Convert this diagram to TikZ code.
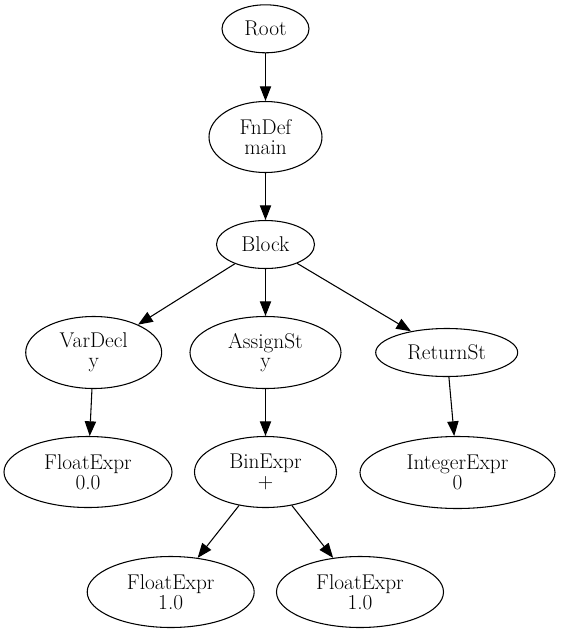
\documentclass[tikz,border=0pt]{standalone}
\usetikzlibrary{shapes.geometric,arrows.meta}
\begin{document}
\begin{tikzpicture}[x=0.75pt,y=-0.75pt,
  tnode/.style={ellipse,draw,line width=0.8pt,inner sep=0pt,align=center,
    font=\fontsize{16pt}{14.8pt}\selectfont},
  edge/.style={line width=0.8pt,-{Triangle[length=11pt,width=8.5pt]}}]
\useasboundingbox (0,0) rectangle (562,633);
\node[tnode,minimum width=87*0.75pt,minimum height=48*0.75pt] (root) at (265.5,28.8) {Root};
\node[tnode,minimum width=113*0.75pt,minimum height=71*0.75pt] (fndef) at (265.5,137) {FnDef\\main};
\node[tnode,minimum width=98*0.75pt,minimum height=48*0.75pt] (block) at (265.5,244.5) {Block};
\node[tnode,minimum width=136*0.75pt,minimum height=72*0.75pt] (vardecl) at (93.7,352.5) {VarDecl\\y};
\node[tnode,minimum width=151*0.75pt,minimum height=72*0.75pt] (assign) at (265.5,352.5) {AssignSt\\y};
\node[tnode,minimum width=142*0.75pt,minimum height=48*0.75pt] (ret) at (446.7,352.5) {ReturnSt};
\node[tnode,minimum width=168*0.75pt,minimum height=71*0.75pt] (float0) at (88,472) {FloatExpr\\0.0};
\node[tnode,minimum width=142*0.75pt,minimum height=71*0.75pt] (binexpr) at (265.5,472) {BinExpr\\+};
\node[tnode,minimum width=195*0.75pt,minimum height=72*0.75pt] (intexpr) at (457.5,472.5) {IntegerExpr\\0};
\node[tnode,minimum width=167*0.75pt,minimum height=71*0.75pt] (fl1) at (170.7,592) {FloatExpr\\1.0};
\node[tnode,minimum width=167*0.75pt,minimum height=71*0.75pt] (fl2) at (360,592) {FloatExpr\\1.0};
\draw[edge] (root) -- (fndef);
\draw[edge] (fndef) -- (block);
\draw[edge] (block) -- (vardecl);
\draw[edge] (block) -- (assign);
\draw[edge] (block) -- (ret);
\draw[edge] (vardecl) -- (float0);
\draw[edge] (assign) -- (binexpr);
\draw[edge] (ret) -- (intexpr);
\draw[edge] (binexpr) -- (fl1);
\draw[edge] (binexpr) -- (fl2);
\end{tikzpicture}
\end{document}
